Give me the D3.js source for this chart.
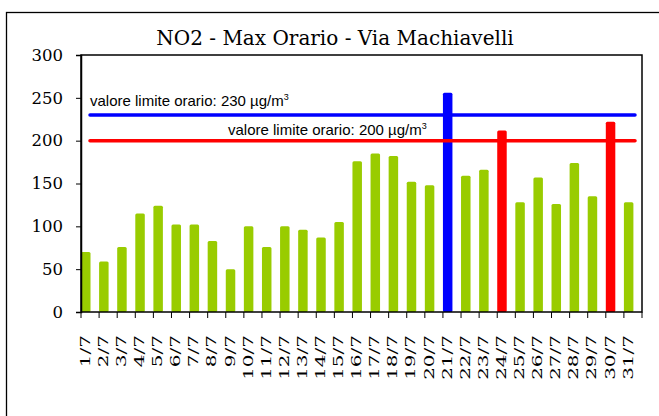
<!DOCTYPE html>
<html><head><meta charset="utf-8">
<script src="https://cdn.jsdelivr.net/npm/d3@7"></script>
<style>body{margin:0;background:#fff}svg{display:block}</style>
</head><body>
<svg id="c" width="659" height="416"></svg>
<script>
const categories = ["1/7","2/7","3/7","4/7","5/7","6/7","7/7","8/7","9/7","10/7","11/7","12/7","13/7","14/7","15/7","16/7","17/7","18/7","19/7","20/7","21/7","22/7","23/7","24/7","25/7","26/7","27/7","28/7","29/7","30/7","31/7"];
const values = [70,59,76,115,124,102,102,83,50,100,76,100,96,87,105,176,185,182,152,148,256,159,166,212,128,157,126,174,135,222,128];
const yTicks = [0,50,100,150,200,250,300];
const limits = [
  {value:230, label:"valore limite orario: 230 µg/m", color:"#0000ff"},
  {value:200, label:"valore limite orario: 200 µg/m", color:"#ff0000"}
];
const title = "NO2 - Max Orario - Via Machiavelli";

const green = "#99cc00";
function barColor(v){ return v > 230 ? "#0000ff" : (v > 200 ? "#ff0000" : green); }

const svg = d3.select("#c");
svg.append("rect").attr("x",6.5).attr("y",12.5).attr("width",700).attr("height",500)
  .attr("fill","none").attr("stroke","#000").attr("stroke-width",1.3);

const L=81, R=642, T=55, B=312;
const x = d3.scaleBand().domain(categories).range([L,R]).paddingInner(0).paddingOuter(0);
const y = d3.scaleLinear().domain([0,300]).range([B,T]);
const barW = 9.5;

svg.append("text").attr("x",335).attr("y",45).attr("text-anchor","middle")
  .style("font-family","'DejaVu Serif', serif").style("font-size","20px").text(title);

svg.append("g").selectAll("rect").data(values).join("rect")
  .attr("x",(d,i)=>x(categories[i]))
  .attr("y",d=>y(d)).attr("width",barW).attr("height",d=>B-y(d))
  .attr("rx",1.5).attr("fill",d=>barColor(d));

svg.append("g").selectAll("line").data(limits).join("line")
  .attr("x1",90).attr("x2",635).attr("y1",d=>y(d.value)).attr("y2",d=>y(d.value))
  .attr("stroke",d=>d.color).attr("stroke-width",3.5).attr("stroke-linecap","round");

const lblPos = [{x:90,y:106},{x:228,y:135}];
limits.forEach((d,i)=>{
  const t = svg.append("text").attr("x",lblPos[i].x).attr("y",lblPos[i].y)
    .style("font-family","'Liberation Sans', Arial, sans-serif").style("font-size","15px");
  t.append("tspan").text(d.label);
  t.append("tspan").attr("dy",-6).style("font-size","9px").text("3");
});

svg.append("rect").attr("x",L).attr("y",T).attr("width",R-L).attr("height",B-T)
  .attr("fill","none").attr("stroke","#000").attr("stroke-width",1.5);

const ya = svg.append("g").attr("transform",`translate(${L},0)`)
  .call(d3.axisLeft(y).tickValues(yTicks).tickSize(5).tickPadding(13));
ya.select(".domain").attr("stroke-width",1.5);
ya.selectAll("text").style("font-family","'DejaVu Serif', serif").style("font-size","16.5px").attr("fill","#000");

const bounds = categories.map(c=>x(c)).concat([R]);
svg.append("g").selectAll("line").data(bounds).join("line")
  .attr("x1",d=>d).attr("x2",d=>d).attr("y1",B).attr("y2",B+6)
  .attr("stroke","#000").attr("stroke-width",1);

svg.append("g").selectAll("text").data(categories).join("text")
  .attr("transform",d=>`translate(${x(d)+barW/2+4},335) rotate(-90) scale(1.6,1)`)
  .attr("text-anchor","end")
  .style("font-family","'DejaVu Serif', serif").style("font-size","12.5px").text(d=>d);
</script>
</body></html>
